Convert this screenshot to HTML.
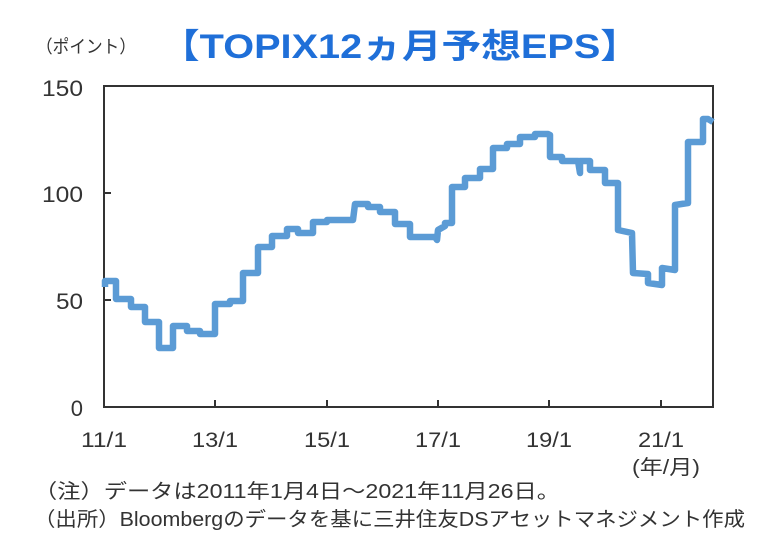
<!DOCTYPE html>
<html><head><meta charset="utf-8"><style>
body{margin:0;background:#fff;}
svg text{font-family:"Liberation Sans","Noto Sans CJK JP",sans-serif;fill:#333;}
</style></head><body>
<svg width="776" height="553" viewBox="0 0 776 553" xmlns="http://www.w3.org/2000/svg">
<text x="36" y="53" font-size="18" textLength="100" lengthAdjust="spacingAndGlyphs">（ポイント）</text>
<text x="160" y="58" font-size="34" font-weight="bold" style="fill:#1f6fd8" textLength="480" lengthAdjust="spacingAndGlyphs">【TOPIX12ヵ月予想EPS】</text>
<rect x="104" y="86" width="609" height="321" fill="none" stroke="#333" stroke-width="2"/>
<g stroke="#333" stroke-width="2">
<line x1="104" y1="193" x2="111" y2="193"/><line x1="104" y1="300" x2="111" y2="300"/>
<line x1="215" y1="407" x2="215" y2="400"/><line x1="327" y1="407" x2="327" y2="400"/>
<line x1="438" y1="407" x2="438" y2="400"/><line x1="549" y1="407" x2="549" y2="400"/>
<line x1="661" y1="407" x2="661" y2="400"/>
</g>
<g font-size="22" text-anchor="end">
<text x="83" y="96" textLength="41" lengthAdjust="spacingAndGlyphs">150</text>
<text x="83" y="202" textLength="41" lengthAdjust="spacingAndGlyphs">100</text>
<text x="83" y="309" textLength="27" lengthAdjust="spacingAndGlyphs">50</text>
<text x="83" y="416">0</text>
</g>
<g font-size="21" text-anchor="middle">
<text x="104" y="447" textLength="46" lengthAdjust="spacingAndGlyphs">11/1</text>
<text x="215" y="447" textLength="46" lengthAdjust="spacingAndGlyphs">13/1</text>
<text x="327" y="447" textLength="46" lengthAdjust="spacingAndGlyphs">15/1</text>
<text x="438" y="447" textLength="46" lengthAdjust="spacingAndGlyphs">17/1</text>
<text x="549" y="447" textLength="46" lengthAdjust="spacingAndGlyphs">19/1</text>
<text x="661" y="447" textLength="46" lengthAdjust="spacingAndGlyphs">21/1</text>
</g>
<text x="632" y="474" font-size="20" textLength="68" lengthAdjust="spacingAndGlyphs">(年/月)</text>
<text x="34" y="498" font-size="20" textLength="526" lengthAdjust="spacingAndGlyphs">（注）データは2011年1月4日～2021年11月26日。</text>
<text x="34" y="526" font-size="20" textLength="711" lengthAdjust="spacingAndGlyphs">（出所）Bloombergのデータを基に三井住友DSアセットマネジメント作成</text>
<polyline fill="none" stroke="#5b9bd5" stroke-width="6.5" stroke-linejoin="round" points="
105,287 105,281 116,281 116,299 131,299 131,307 145,307 145,322 159,322 159,348 173,348 173,326 187,326 187,331 200,331 200,334 215,334
215,304 230,304 230,301 243,301 243,273 258,273 258,247 272,247 272,236 287,236 287,229 298,229 298,233 313,233 313,222 327,222 327,220 353,220
355,204 368,204 368,207 380,207 380,212 395,212 395,224 410,224 410,237 435,237 437,240 438,230 445,226 445,223 452,223 452,187 465,187 465,178 480,178 480,169 493,169
493,148 507,148 507,144 520,144 520,137 535,137 535,134 548,134 550,135 550,157 562,157 562,161 578,161 580,173 580,161 590,161 590,170 605,170 605,183 618,183
618,230 632,233 633,273 648,274 648,283 662,285 662,268 675,270 675,205 688,203 688,142 703,142 703,119 708,119 713,122"/>
</svg>
</body></html>
